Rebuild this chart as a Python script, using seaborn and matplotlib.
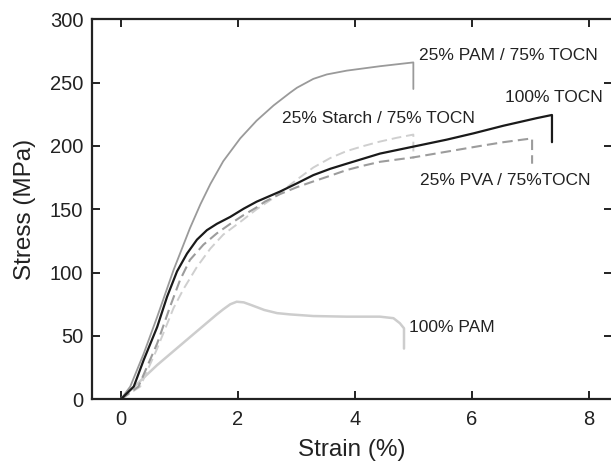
import matplotlib
matplotlib.use("Agg")
import matplotlib.pyplot as plt
import seaborn as sns

# stress-strain curves
# 25% PAM / 75% TOCN
pam_tocn_x = [0, 0.16, 0.39, 0.62, 0.9, 1.18, 1.36, 1.53, 1.75, 2.04, 2.32, 2.61, 2.89, 3.01,
              3.29, 3.52, 3.86, 4.43, 5.0, 5.0]
pam_tocn_y = [0, 10, 36, 65, 102, 135, 154, 170, 188, 206, 220, 232, 242, 246,
              253, 256.5, 259.5, 263, 266, 245]

# 100% TOCN
tocn_x = [0, 0.22, 0.39, 0.62, 0.79, 0.96, 1.13, 1.30, 1.47, 1.64, 1.87, 2.1, 2.32, 2.72, 3.01,
          3.29, 3.58, 3.86, 4.43, 5.0, 5.57, 6.03, 6.54, 7.11, 7.37, 7.37]
tocn_y = [0, 10, 31, 57, 81, 101, 115, 126, 133.5, 138.5, 144, 150.5, 156, 164, 170.5,
          177, 182, 186, 194, 199.5, 205, 210, 216, 222, 224.5, 203]

# 25% Starch / 75% TOCN
starch_x = [0, 0.33, 0.62, 0.9, 1.07, 1.3, 1.53, 1.75, 2.04, 2.32, 2.61, 2.72, 3.01, 3.29,
            3.58, 3.86, 4.15, 4.43, 4.72, 5.0, 5.0]
starch_y = [0, 10, 40, 72, 87, 104.5, 119, 130, 140, 150, 159, 163, 173.5, 183,
            190.5, 196, 200, 203.5, 206.5, 209, 190]

# 25% PVA / 75% TOCN
pva_x = [0, 0.3, 0.62, 0.84, 1.01, 1.18, 1.41, 1.64, 1.87, 2.1, 2.32, 2.46, 2.72, 3.01, 3.29,
         3.58, 3.86, 4.15, 4.43, 5.0, 5.57, 6.14, 6.54, 7.03, 7.03]
pva_y = [0, 10, 44, 73, 94, 110, 122, 131, 138.5, 145.5, 151.5, 156, 162, 167.5, 172,
         176.5, 181, 184.5, 187.5, 191, 195.5, 200, 203, 206, 186]

# 100% PAM
pam_x = [0, 0.62, 1.18, 1.64, 1.75, 1.87, 1.98, 2.1, 2.25, 2.45, 2.67, 2.89, 3.29, 3.86,
         4.43, 4.66, 4.77, 4.84, 4.84]
pam_y = [0, 27, 49, 67, 71, 75, 77, 76.5, 74, 70.5, 68, 67, 65.7, 65.2,
         65.2, 64, 60, 56, 40]

labels = ["25% PAM / 75% TOCN", "25% Starch / 75% TOCN", "100% TOCN",
          "25% PVA / 75%TOCN", "100% PAM"]
label_x = [5.10, 2.75, 6.57, 5.12, 4.92]
label_y = [271.7, 222, 238.4, 173, 56.8]

x_ticks = [0, 2, 4, 6, 8]
y_ticks = [0, 50, 100, 150, 200, 250, 300]

sns.set_style("ticks")
plt.rcParams['font.family'] = ['Liberation Sans', 'DejaVu Sans']

fig = plt.figure(figsize=(6.11, 4.61), dpi=100)
ax = fig.add_axes([0.150, 0.134, 0.852, 0.824])

line_kw = dict(ax=ax, estimator=None, sort=False, legend=False)
sns.lineplot(x=pam_x, y=pam_y, color='#cdcdcd', linewidth=1.8, **line_kw)
sns.lineplot(x=starch_x, y=starch_y, color='#cfcfcf', linewidth=1.4,
             linestyle=(0, (5, 2.5)), **line_kw)
sns.lineplot(x=pva_x, y=pva_y, color='#9c9c9c', linewidth=1.5,
             linestyle=(0, (5, 2.5)), **line_kw)
sns.lineplot(x=pam_tocn_x, y=pam_tocn_y, color='#9a9a9a', linewidth=1.3, **line_kw)
sns.lineplot(x=tocn_x, y=tocn_y, color='#1a1a1a', linewidth=1.6, **line_kw)

for lab, lx, ly in zip(labels, label_x, label_y):
    ax.text(lx, ly, lab, fontsize=12.5, color='#222222', ha='left', va='center')

ax.set_xlim(-0.5, 8.4)
ax.set_ylim(0, 300)
ax.set_xticks(x_ticks)
ax.set_yticks(y_ticks)
ax.tick_params(direction='in', length=6, width=1.4, top=True, right=True,
               labelsize=14.5, colors='#222222')
ax.tick_params(axis='x', pad=8)
ax.tick_params(axis='y', pad=6)
for s in ['left', 'bottom', 'top']:
    ax.spines[s].set_linewidth(1.6)
    ax.spines[s].set_color('#222222')
ax.spines['right'].set_visible(False)

ax.set_xlabel('Strain (%)', fontsize=17.5, color='#222222', labelpad=7)
ax.set_ylabel('Stress (MPa)', fontsize=17.5, color='#222222', labelpad=10)

fig.savefig('out.png', dpi=100)
